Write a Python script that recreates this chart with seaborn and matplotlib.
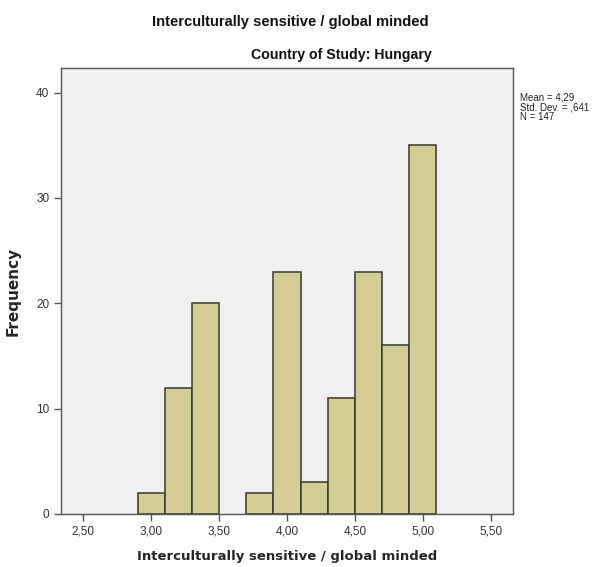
import matplotlib
matplotlib.use("Agg")
import matplotlib.pyplot as plt
import seaborn as sns
import numpy as np

# Data (bin centres, counts)
bin_centers = [3.0, 3.2, 3.4, 3.6, 3.8, 4.0, 4.2, 4.4, 4.6, 4.8, 5.0]
counts = [2, 12, 20, 0, 2, 23, 3, 11, 23, 16, 35]
x_ticks = [2.5, 3.0, 3.5, 4.0, 4.5, 5.0, 5.5]
x_tick_labels = ["2,50", "3,00", "3,50", "4,00", "4,50", "5,00", "5,50"]
y_ticks = [0, 10, 20, 30, 40]
stats_text = "Mean = 4,29\nStd. Dev. = ,641\nN = 147"
title = "Interculturally sensitive / global minded"
subtitle = "Country of Study: Hungary"
xlabel = "Interculturally sensitive / global minded"
ylabel = "Frequency"

sns.set_style("white")
plt.rcParams["font.family"] = ["Liberation Sans", "DejaVu Sans"]

fig = plt.figure(figsize=(6.15, 5.67), dpi=100)
ax = fig.add_axes([61 / 615, 1 - 514 / 567, (513 - 61) / 615, (514 - 68.3) / 567])
ax.set_facecolor("#F0F0F0")

sns.histplot(x=bin_centers, weights=counts, binwidth=0.2, binrange=(2.9, 5.1),
             color="#D3CE98", edgecolor="#3A3826", linewidth=1.1, alpha=1.0, ax=ax)
for p in ax.patches:
    if p.get_height() == 0:
        p.set_linewidth(0)

ax.set_xlim(2.336, 5.664)
ax.set_ylim(0, 42.3)
ax.set_xticks(x_ticks)
ax.set_xticklabels(x_tick_labels)
ax.set_yticks(y_ticks)
ax.tick_params(axis="both", direction="out", length=5, width=1, colors="#555555",
               labelsize=8.5, labelcolor="#333333", bottom=True, left=True)
for s in ax.spines.values():
    s.set_color("#555555")
    s.set_linewidth(1.0)

ax.set_xlabel(xlabel, fontsize=9.5, fontweight="bold", family="DejaVu Sans", labelpad=9)
ax.set_ylabel(ylabel, fontsize=11, fontweight="bold", family="DejaVu Sans", labelpad=11)

fig.text(290 / 615, 1 - 22 / 567, title, ha="center", va="center", fontsize=10.6,
         fontweight="bold", color="#111111")
fig.text(341 / 615, 1 - 55 / 567, subtitle, ha="center", va="center", fontsize=10.2,
         fontweight="bold", color="#111111")
fig.text(520 / 615, 1 - 93 / 567, stats_text, ha="left", va="top", fontsize=7,
         color="#222222", linespacing=0.95)

fig.savefig("out.png", dpi=100)
